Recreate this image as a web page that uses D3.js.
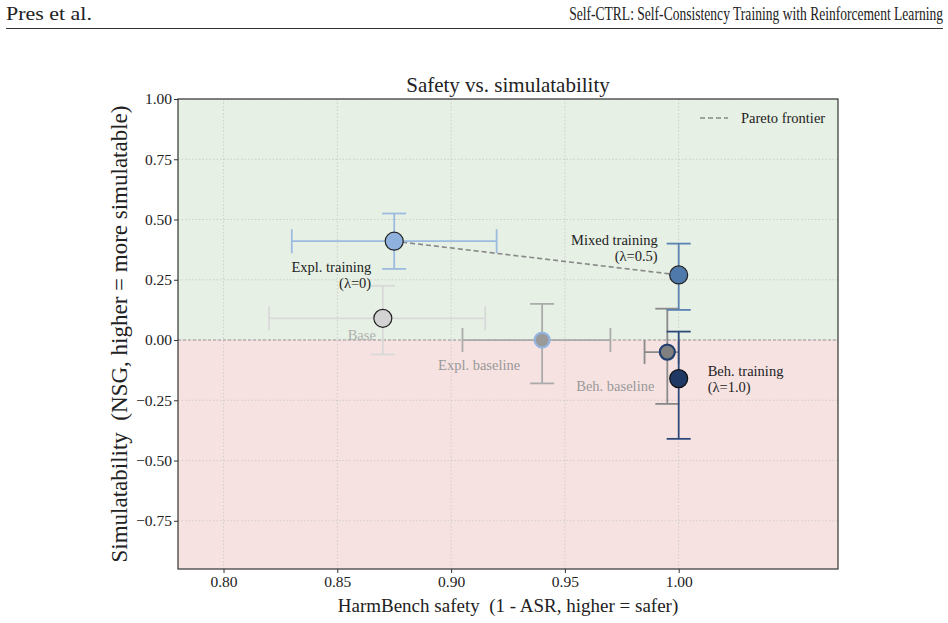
<!DOCTYPE html>
<html>
<head>
<meta charset="utf-8">
<script src="https://cdn.jsdelivr.net/npm/d3@7"></script>
<style>
  body { margin: 0; background: #fff; }
  svg text { font-family: "Liberation Serif", "Times New Roman", serif; white-space: pre; }
</style>
</head>
<body>
<div id="chart"></div>
<script>
// data
var names  = ["Base", "Expl. baseline", "Beh. baseline", "Expl. training", "Mixed training", "Beh. training"];
var safety = [0.870, 0.940, 0.995, 0.875, 1.000, 1.000];
var safetyLo = [0.820, 0.905, 0.985, 0.830, 1.000, 1.000];
var safetyHi = [0.915, 0.970, 1.000, 0.920, 1.000, 1.000];
var nsg   = [0.09, 0.00, -0.05, 0.41, 0.27, -0.16];
var nsgLo = [-0.06, -0.18, -0.265, 0.295, 0.125, -0.41];
var nsgHi = [0.225, 0.15, 0.13, 0.525, 0.40, 0.035];
var pareto = ["Expl. training", "Mixed training"];
var xTicks = [0.80, 0.85, 0.90, 0.95, 1.00];
var yTicks = [-0.75, -0.50, -0.25, 0.00, 0.25, 0.50, 0.75, 1.00];

// styling per point
var style = {
  "Base":           { fill: "#d3d3d3", edge: "#222",    bar: "#d9d9d9" },
  "Expl. baseline": { fill: "#9a9a9a", edge: "#93b5e0", bar: "#ababab" },
  "Beh. baseline":  { fill: "#808080", edge: "#24406e", bar: "#8a8a8a" },
  "Expl. training": { fill: "#8fb1dd", edge: "#222",    bar: "#9dbbe0" },
  "Mixed training": { fill: "#4f78ab", edge: "#222",    bar: "#5a82b2" },
  "Beh. training":  { fill: "#1f3864", edge: "#111",    bar: "#2d4a7a" }
};

var w = 948, h = 623;
var margin = { left: 178, right: 110, top: 99, bottom: 54 };

var svg = d3.select("#chart").append("svg")
  .attr("width", w).attr("height", h);

// page header (squeezed / stretched to the widths seen in the paper)
function headerText(str, xPos, anchor, width) {
  var t = svg.append("text").attr("text-anchor", anchor).style("font-size", "19px")
    .attr("fill", "#222").text(str);
  var k = width / t.node().getComputedTextLength();
  t.attr("transform", "translate(" + xPos + ",20) scale(" + k + ",1)");
}
headerText("Pres et al.", 6, "start", 86);
headerText("Self-CTRL: Self-Consistency Training with Reinforcement Learning", 943, "end", 374);
svg.append("line").attr("x1", 6).attr("x2", 943).attr("y1", 28.5).attr("y2", 28.5)
  .attr("stroke", "#333").attr("stroke-width", 1);

var x = d3.scaleLinear().domain([0.78, 1.07]).range([margin.left, w - margin.right]);
var y = d3.scaleLinear().domain([-0.95, 1.0]).range([h - margin.bottom, margin.top]);

var x0 = x.range()[0], x1 = x.range()[1];
var yTop = y.range()[1], yBot = y.range()[0];

// shaded regions
svg.append("rect").attr("x", x0).attr("y", yTop).attr("width", x1 - x0).attr("height", y(0) - yTop)
  .attr("fill", "#e6f0e4");
svg.append("rect").attr("x", x0).attr("y", y(0)).attr("width", x1 - x0).attr("height", yBot - y(0))
  .attr("fill", "#f7e2e2");

// grid
svg.append("g").selectAll("line").data(xTicks).enter().append("line")
  .attr("x1", function(d) { return x(d); }).attr("x2", function(d) { return x(d); })
  .attr("y1", yTop).attr("y2", yBot)
  .attr("stroke", "#c8c8c8").attr("stroke-width", 0.8).attr("stroke-dasharray", "1.5,2");
svg.append("g").selectAll("line").data(yTicks).enter().append("line")
  .attr("y1", function(d) { return y(d); }).attr("y2", function(d) { return y(d); })
  .attr("x1", x0).attr("x2", x1)
  .attr("stroke", "#c8c8c8").attr("stroke-width", 0.8).attr("stroke-dasharray", "1.5,2");

// zero line
svg.append("line").attr("x1", x0).attr("x2", x1).attr("y1", y(0)).attr("y2", y(0))
  .attr("stroke", "#999").attr("stroke-width", 1).attr("stroke-dasharray", "3,2");

// axes
var xAxis = svg.append("g").attr("transform", "translate(0," + yBot + ")")
  .call(d3.axisBottom(x).tickValues(xTicks).tickFormat(d3.format(".2f")).tickSizeOuter(0).tickSize(4));
var yAxis = svg.append("g").attr("transform", "translate(" + x0 + ",0)")
  .call(d3.axisLeft(y).tickValues(yTicks).tickFormat(function(d) { return d3.format(".2f")(d).replace("-", "\u2212"); }).tickSizeOuter(0).tickSize(4));
[xAxis, yAxis].forEach(function(a) {
  a.attr("font-family", null);
  a.select(".domain").remove();
  a.selectAll(".tick line").attr("stroke", "#333");
  a.selectAll(".tick text").style("font-size", "15.5px").attr("fill", "#222");
});
xAxis.selectAll(".tick text").attr("y", 7).attr("dy", "0.71em");
yAxis.selectAll(".tick text").attr("x", -6);

// frame
svg.append("rect").attr("x", x0).attr("y", yTop).attr("width", x1 - x0).attr("height", yBot - yTop)
  .attr("fill", "none").attr("stroke", "#333").attr("stroke-width", 1.2);

// pareto frontier
var pts = pareto.map(function(n) { var i = names.indexOf(n); return [x(safety[i]), y(nsg[i])]; });
svg.append("path").attr("d", d3.line()(pts))
  .attr("fill", "none").attr("stroke", "#888").attr("stroke-width", 1.6).attr("stroke-dasharray", "5,3");

// error bars and markers
var cap = 12;
var g = svg.append("g");
names.forEach(function(n, i) {
  var s = style[n];
  var cx = x(safety[i]), cy = y(nsg[i]);
  var eb = g.append("g").attr("stroke", s.bar).attr("stroke-width", 1.8).attr("fill", "none");
  if (safetyHi[i] > safetyLo[i]) {
    eb.append("line").attr("x1", x(safetyLo[i])).attr("x2", x(safetyHi[i])).attr("y1", cy).attr("y2", cy);
    [safetyLo[i], safetyHi[i]].forEach(function(v) {
      if (v !== safety[i]) eb.append("line").attr("x1", x(v)).attr("x2", x(v)).attr("y1", cy - cap).attr("y2", cy + cap);
    });
  }
  eb.append("line").attr("x1", cx).attr("x2", cx).attr("y1", y(nsgLo[i])).attr("y2", y(nsgHi[i]));
  [nsgLo[i], nsgHi[i]].forEach(function(v) {
    eb.append("line").attr("x1", cx - cap).attr("x2", cx + cap).attr("y1", y(v)).attr("y2", y(v));
  });
});
names.forEach(function(n, i) {
  var s = style[n];
  var base = n.indexOf("baseline") > 0;
  g.append("circle").attr("cx", x(safety[i])).attr("cy", y(nsg[i])).attr("r", base ? 7.5 : 9)
    .attr("fill", s.fill).attr("stroke", s.edge).attr("stroke-width", base ? 2.2 : 1.2);
});

// annotations
function label(n, lines, dx, dy, anchor, color) {
  var i = names.indexOf(n);
  var t = svg.append("text").attr("text-anchor", anchor).attr("fill", color).style("font-size", "14.5px");
  lines.forEach(function(l, k) {
    t.append("tspan").attr("x", x(safety[i]) + dx).attr("y", y(nsg[i]) + dy + k * 16).text(l);
  });
}
label("Expl. training", ["Expl. training", "(\u03bb=0)"], -23, 31, "end", "#222");
label("Mixed training", ["Mixed training", "(\u03bb=0.5)"], -21, -30, "end", "#222");
label("Beh. training", ["Beh. training", "(\u03bb=1.0)"], 29, -3, "start", "#222");
label("Base", ["Base"], -7, 22, "end", "#b0b0b0");
label("Expl. baseline", ["Expl. baseline"], -63, 30, "middle", "#999");
label("Beh. baseline", ["Beh. baseline"], -52, 39, "middle", "#999");

// legend
var lg = svg.append("g");
lg.append("line").attr("x1", 700).attr("x2", 728).attr("y1", 118).attr("y2", 118)
  .attr("stroke", "#888").attr("stroke-width", 1.6).attr("stroke-dasharray", "5,3");
lg.append("text").attr("x", 741).attr("y", 123).style("font-size", "14.5px").attr("fill", "#222").text("Pareto frontier");

// titles
svg.append("text").attr("x", (x0 + x1) / 2).attr("y", 92).attr("text-anchor", "middle")
  .style("font-size", "21px").attr("fill", "#222").text("Safety vs. simulatability");
svg.append("text").attr("x", (x0 + x1) / 2).attr("y", 612).attr("text-anchor", "middle")
  .style("font-size", "19px").attr("fill", "#222").text("HarmBench safety  (1 - ASR, higher = safer)");
svg.append("text").attr("transform", "translate(127," + ((yTop + yBot) / 2) + ") rotate(-90)")
  .attr("text-anchor", "middle").style("font-size", "23px").attr("fill", "#222")
  .text("Simulatability  (NSG, higher = more simulatable)");
</script>
</body>
</html>
